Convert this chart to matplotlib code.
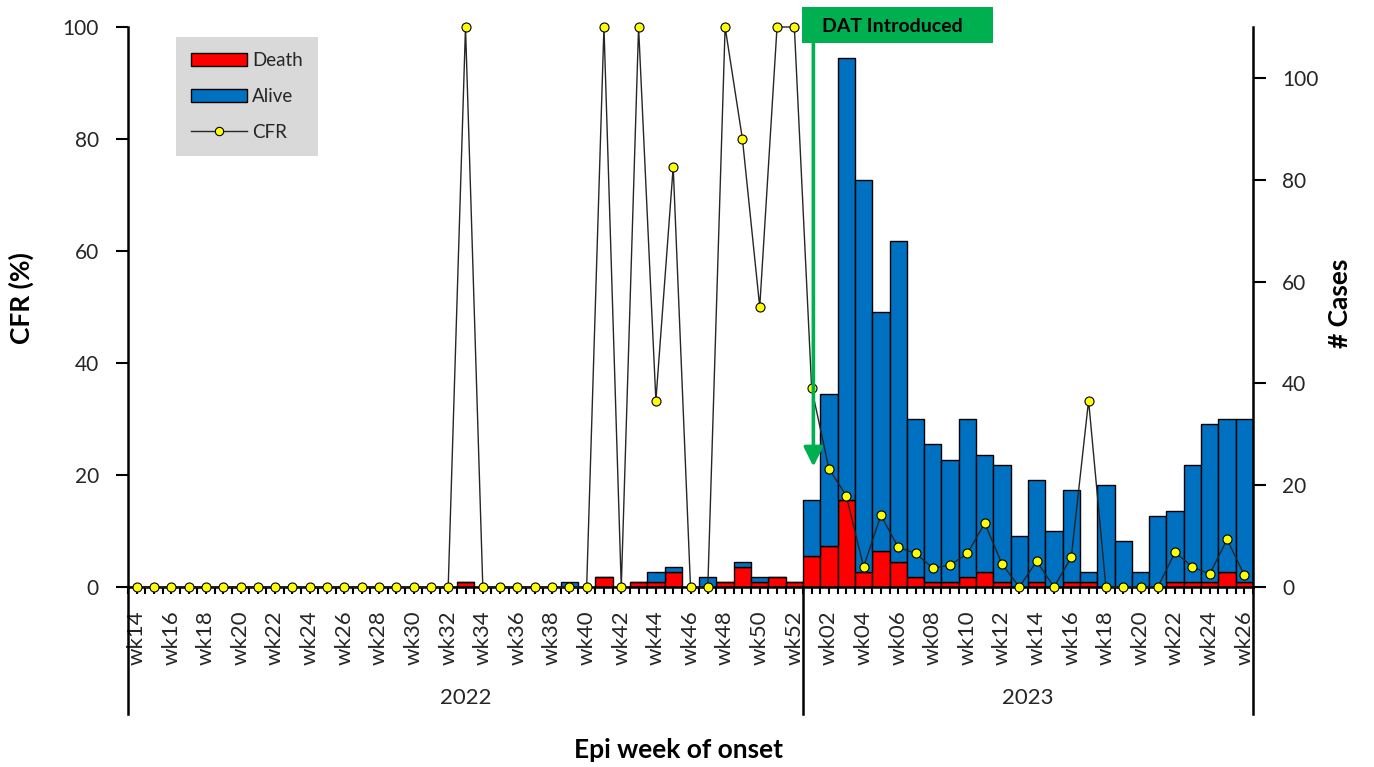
#!/usr/bin/env python3
# Weekly cases (death / alive) and CFR by epi week of onset, 2022-2023

import numpy as np
import matplotlib
matplotlib.use("Agg")
import matplotlib.pyplot as plt
from matplotlib.patches import Patch, Rectangle
from matplotlib.lines import Line2D

plt.rcParams["font.family"] = ["Lato", "DejaVu Sans"]

weeks_2022 = [f"wk{w:02d}" for w in range(14, 53)]
weeks_2023 = [f"wk{w:02d}" for w in range(1, 27)]

# deaths / alive per week, 2022 wk14..wk52
death_2022 = [0, 0, 0, 0, 0, 0, 0, 0, 0, 0, 0, 0, 0, 0, 0, 0, 0, 0, 0, 1,
              0, 0, 0, 0, 0, 0, 0, 2, 0, 1, 1, 3, 0, 0, 1, 4, 1, 2, 1]
alive_2022 = [0, 0, 0, 0, 0, 0, 0, 0, 0, 0, 0, 0, 0, 0, 0, 0, 0, 0, 0, 0,
              0, 0, 0, 0, 0, 1, 0, 0, 0, 0, 2, 1, 0, 2, 0, 1, 1, 0, 0]
cfr_2022 = [0, 0, 0, 0, 0, 0, 0, 0, 0, 0, 0, 0, 0, 0, 0, 0, 0, 0, 0, 100,
            0, 0, 0, 0, 0, 0, 0, 100, 0, 100, 33.3, 75, 0, 0, 100, 80, 50, 100, 100]

# 2023 wk01..wk26
death_2023 = [6, 8, 17, 3, 7, 5, 2, 1, 1, 2, 3, 1, 0, 1, 0, 1, 1, 0, 0, 0,
              0, 1, 1, 1, 3, 1]
alive_2023 = [11, 30, 87, 77, 47, 63, 31, 27, 24, 31, 23, 23, 10, 20, 11, 18, 2, 20, 9, 3,
              14, 14, 23, 31, 30, 32]
cfr_2023 = [35.5, 21.1, 16.3, 3.6, 12.8, 7.1, 6.0, 3.4, 3.9, 6.0, 11.4, 4.1, 0, 4.6, 0, 5.3,
            33.3, 0, 0, 0, 0, 6.2, 3.6, 2.3, 8.5, 2.1]

labels = weeks_2022 + weeks_2023
death = np.array(death_2022 + death_2023)
alive = np.array(alive_2022 + alive_2023)
cfr = np.array(cfr_2022 + cfr_2023)
x = np.arange(len(labels))
n22 = len(weeks_2022)

RED = "#ff0000"
BLUE = "#0070c0"
GREEN = "#00b050"
TXT = "#262626"

fig = plt.figure(figsize=(13.74, 7.67), dpi=100)
ax = fig.add_axes([128 / 1374, 180 / 767, 1125 / 1374, 560 / 767])
ax2 = ax.twinx()
ax.set_zorder(ax2.get_zorder() + 1)
ax.patch.set_visible(False)

ax2.bar(x, death, width=1.0, color=RED, edgecolor="black", linewidth=1.0)
ax2.bar(x, alive, width=1.0, bottom=death, color=BLUE, edgecolor="black", linewidth=1.0)
ax.plot(x, cfr, color="#262626", lw=1.0, marker="o", ms=6.5,
        mfc="#ffff00", mec="black", mew=0.8, clip_on=False, zorder=5)

ax.set_xlim(-0.5, len(x) - 0.5)
ax.set_ylim(0, 100)
ax2.set_ylim(0, 110)
ax.set_yticks(range(0, 101, 20))
ax2.set_yticks(range(0, 101, 20))

for a in (ax, ax2):
    a.spines["top"].set_visible(False)
    for s in a.spines.values():
        s.set_linewidth(1.8)
ax2.spines["left"].set_visible(False)
ax.spines["right"].set_visible(False)
ax2.spines["bottom"].set_visible(False)

ax.tick_params(axis="y", direction="out", length=9, width=1.5, pad=12,
               labelsize=15, labelcolor=TXT)
ax2.tick_params(axis="y", direction="out", length=9, width=1.5, pad=12,
                labelsize=15, labelcolor=TXT)

ax.set_xticks(x[::2])
ax.set_xticklabels(labels[::2], rotation=90, fontsize=16, color=TXT)
ax.set_xticks(np.arange(-0.5, len(x), 0.5), minor=True)
ax.tick_params(axis="x", which="both", direction="out", length=5, width=1.5, pad=12)

# year separators and labels under the week labels
sep_y = (587 - 714) / 560
for xs in (-0.5, n22 - 0.5, len(x) - 0.5):
    ax.plot([xs, xs], [0, sep_y], color="black", lw=1.8, clip_on=False,
            transform=ax.get_xaxis_transform())
year_y = (587 - 698) / 560
ax.text((n22 - 1) / 2, year_y, "2022", transform=ax.get_xaxis_transform(),
        ha="center", va="center", fontsize=16, color=TXT)
ax.text(n22 + (len(x) - n22 - 1) / 2, year_y, "2023", transform=ax.get_xaxis_transform(),
        ha="center", va="center", fontsize=16, color=TXT)

fig.text(679 / 1374, 1 - 750 / 767, "Epi week of onset", ha="center", va="center",
         fontsize=19, fontweight="bold", color="black")
fig.text(21 / 1374, 1 - 298 / 767, "CFR (%)", rotation=90, ha="center", va="center",
         fontsize=19, fontweight="bold", color="black")
fig.text(1340 / 1374, 1 - 303 / 767, "# Cases", rotation=90, ha="center", va="center",
         fontsize=19, fontweight="bold", color="black")

# legend
handles = [Patch(facecolor=RED, edgecolor="black", lw=1.0),
           Patch(facecolor=BLUE, edgecolor="black", lw=1.0),
           Line2D([], [], color="#262626", lw=1.0, marker="o", ms=6,
                  mfc="#ffff00", mec="black", mew=0.8)]
leg = ax.legend(handles, ["Death", "Alive", "CFR"], loc="upper left",
                bbox_to_anchor=((176 - 128) / 1125, (587 - 37) / 560),
                fontsize=13.5, frameon=True, fancybox=False, framealpha=1,
                handlelength=3.0, handleheight=0.7, handletextpad=0.25,
                labelspacing=1.0, borderpad=0.8, borderaxespad=0)
leg.get_frame().set_facecolor("#d9d9d9")
leg.get_frame().set_edgecolor("none")
for t in leg.get_texts():
    t.set_color(TXT)

# DAT introduced box and arrow
fig.patches.append(Rectangle((802 / 1374, 1 - 43 / 767), 191 / 1374, 36 / 767,
                             transform=fig.transFigure, facecolor=GREEN,
                             edgecolor="none", zorder=10))
fig.text(822 / 1374, 1 - 27 / 767, "DAT Introduced", ha="left", va="center",
         fontsize=14, fontweight="bold", color="black", zorder=11)
ax.annotate("", xy=(n22 + 0.1, 21.5), xycoords="data",
            xytext=(n22 + 0.1, (587 - 43) / 560), textcoords=("data", "axes fraction"),
            arrowprops=dict(arrowstyle="-|>,head_length=0.4,head_width=0.2",
                            color=GREEN, lw=2.6, mutation_scale=29,
                            shrinkA=0, shrinkB=0), zorder=8)

fig.savefig("out.png", dpi=100)
print("saved out.png")
